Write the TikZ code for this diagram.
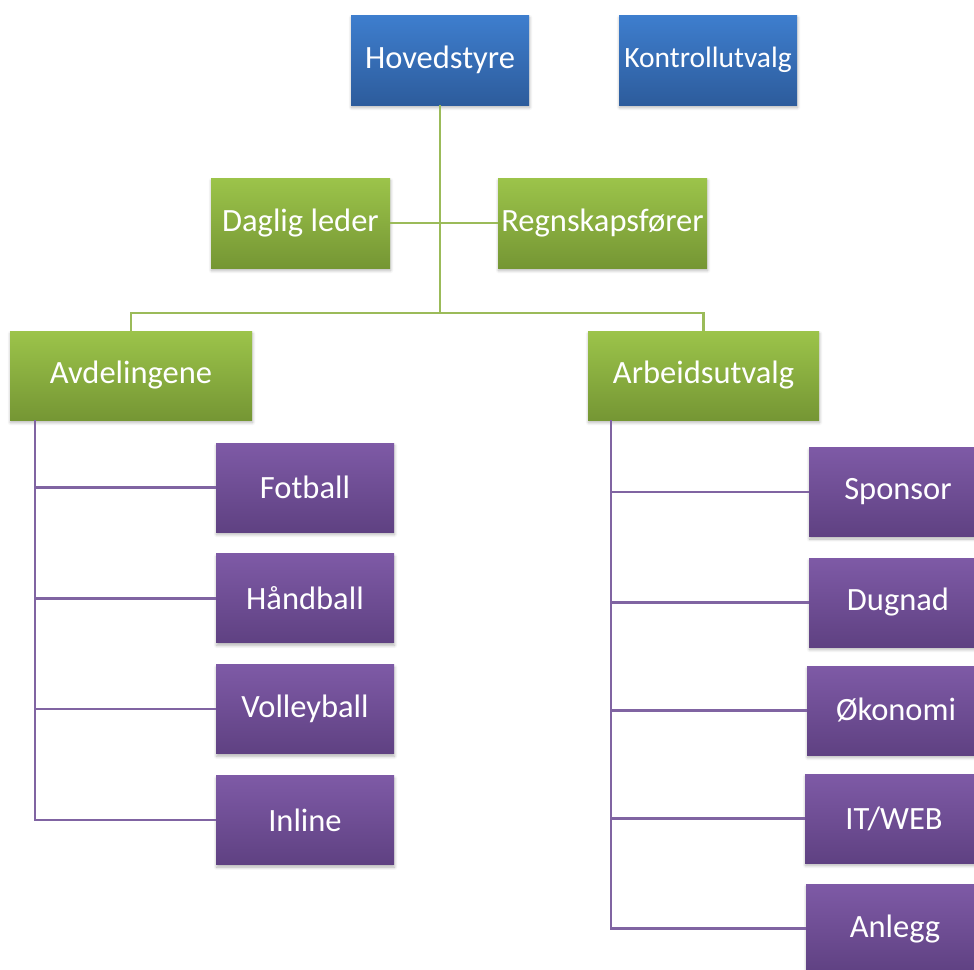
\documentclass[tikz,border=0pt]{standalone}
\usepackage{fontspec}
\setmainfont{Carlito}
\usepackage{xcolor}
\usepackage{tikz}
\usetikzlibrary{positioning,shadows.blur}

\definecolor{boardtop}{RGB}{62,126,206}
\definecolor{boardbot}{RGB}{45,92,156}
\definecolor{stafftop}{RGB}{156,196,74}
\definecolor{staffbot}{RGB}{117,150,52}
\definecolor{grouptop}{RGB}{126,90,166}
\definecolor{groupbot}{RGB}{95,65,130}
\definecolor{greenline}{RGB}{155,187,89}
\definecolor{purpleline}{RGB}{128,100,162}

\begin{document}
\begin{tikzpicture}[
  x=1pt, y=1pt,
  font=\fontsize{32.5}{38}\selectfont,
  node distance=21.5pt,
  unit/.style={minimum height=90pt, inner sep=0pt, text=white,
    blur shadow={shadow xshift=0.5pt, shadow yshift=-2.5pt, shadow blur radius=3pt, shadow blur steps=6, shadow opacity=30}},
  board/.style={unit, minimum width=178pt, top color=boardtop, bottom color=boardbot},
  staff/.style={unit, top color=stafftop, bottom color=staffbot},
  group/.style={unit, minimum width=178pt, minimum height=89pt, top color=grouptop, bottom color=groupbot},
  greenlink/.style={draw=greenline, line width=2.2pt},
  purplelink/.style={draw=purpleline, line width=2.2pt}
]
\useasboundingbox (0,0) rectangle (974,-969);
\clip (0,0) rectangle (974,-969);

% top level
\node[board] (hoved) at (440,-60) {Hovedstyre};
\node[board, font=\fontsize{29.5}{35}\selectfont] (kontroll) at (708,-60) {Kontrollutvalg};

% staff
\node[staff, minimum width=179pt] (daglig) at (300.5,-223) {Daglig leder};
\node[staff, minimum width=209pt] (regnskap) at (602.5,-223) {Regnskapsfører};
\node[staff, minimum width=242pt, minimum height=89pt] (avd) at (131,-375.5) {Avdelingene};
\node[staff, minimum width=231pt, minimum height=89pt] (arb) at (703.5,-375.5) {Arbeidsutvalg};

% departments
\node[group] (fotball) at (305,-487.5) {Fotball};
\node[group, below=of fotball] (handball) {Håndball};
\node[group, below=of handball] (volley) {Volleyball};
\node[group, below=of volley] (inline) {Inline};

% committees
\node[group] (sponsor) at (898,-492) {Sponsor};
\node[group] (dugnad) at (898,-602.5) {Dugnad};
\node[group] (okonomi) at (896,-710.5) {Økonomi};
\node[group] (itweb) at (894,-818.5) {IT/WEB};
\node[group] (anlegg) at (895,-928.5) {Anlegg};

% green links
\coordinate (split) at (440,-313);
\draw[greenlink] (hoved) -- (split);
\draw[greenlink] (daglig) -- (regnskap);
\draw[greenlink] (split) -| (avd);
\draw[greenlink] (split) -| (arb);

% purple links
\coordinate (avdtrunk) at ([xshift=25pt]avd.south west);
\coordinate (arbtrunk) at ([xshift=23pt]arb.south west);
\foreach \d in {fotball,handball,volley,inline}
  \draw[purplelink] (avdtrunk) |- (\d.west);
\foreach \c in {sponsor,dugnad,okonomi,itweb,anlegg}
  \draw[purplelink] (arbtrunk) |- (\c.west);
\end{tikzpicture}
\end{document}
